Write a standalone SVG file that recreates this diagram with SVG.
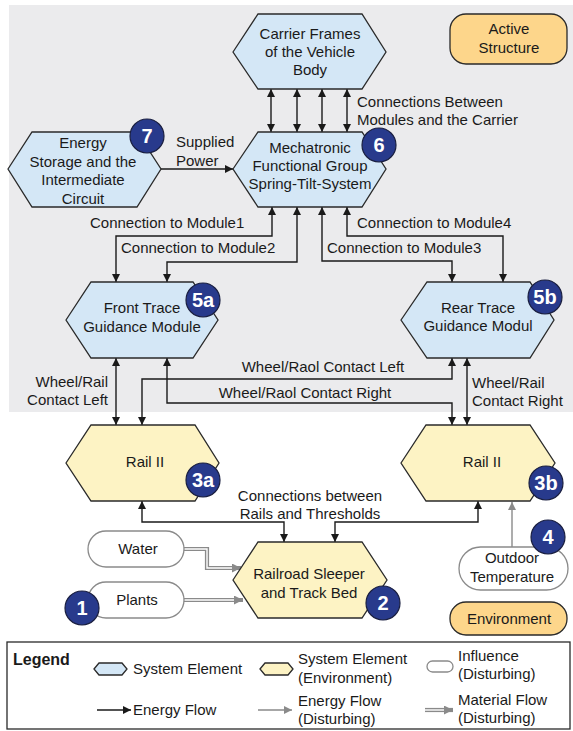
<svg xmlns="http://www.w3.org/2000/svg" width="573" height="731" viewBox="0 0 573 731">
<style>
text{font-family:"Liberation Sans",Arial,sans-serif;font-size:15px;fill:#1a1a1a}
.c{text-anchor:middle}
.e{text-anchor:end}
.sys{fill:#d4e7f6;stroke:#2a2a2a;stroke-width:1.3}
.env{fill:#fdf3c4;stroke:#2a2a2a;stroke-width:1.3}
.inf{fill:#ffffff;stroke:#8a8a8a;stroke-width:1.3}
.box{fill:#fdd68b;stroke:#2a2a2a;stroke-width:1.3}
.badge circle{fill:#283a8c;stroke:#1a1f40;stroke-width:1.2}
.badge text{fill:#ffffff;font-weight:bold;font-size:20px;text-anchor:middle}
.ef{fill:none;stroke:#1a1a1a;stroke-width:1.4}
.ed{fill:none;stroke:#8a8a8a;stroke-width:1.4}
.mo{fill:none;stroke:#8a8a8a;stroke-width:4.2}
.mi{fill:none;stroke:#ffffff;stroke-width:1.4}
</style>
<defs>
<marker id="ah" viewBox="0 0 10 10" refX="10" refY="5" markerWidth="9" markerHeight="8" markerUnits="userSpaceOnUse" orient="auto-start-reverse"><path d="M0,0 L10,5 L0,10 z" fill="#1a1a1a"/></marker>
<marker id="ag" viewBox="0 0 10 10" refX="10" refY="5" markerWidth="9" markerHeight="8" markerUnits="userSpaceOnUse" orient="auto"><path d="M0,0 L10,5 L0,10 z" fill="#8a8a8a"/></marker>
<marker id="am" viewBox="0 0 10 10" refX="10" refY="5" markerWidth="10" markerHeight="9" markerUnits="userSpaceOnUse" orient="auto"><path d="M0,0 L10,5 L0,10 z" fill="#8a8a8a"/></marker>
</defs>
<rect x="9" y="5" width="564" height="407" fill="#ebebed"/>

<g id="connectors">
<path class="ef" d="M271,89 V132" marker-start="url(#ah)" marker-end="url(#ah)"/>
<path class="ef" d="M297,89 V132" marker-start="url(#ah)" marker-end="url(#ah)"/>
<path class="ef" d="M322,89 V132" marker-start="url(#ah)" marker-end="url(#ah)"/>
<path class="ef" d="M347,89 V132" marker-start="url(#ah)" marker-end="url(#ah)"/>
<path class="ef" d="M161,169 H233" marker-end="url(#ah)"/>
<path class="ef" d="M272,207 V236 H116 V282" marker-start="url(#ah)" marker-end="url(#ah)"/>
<path class="ef" d="M297,207 V262 H167 V282" marker-start="url(#ah)" marker-end="url(#ah)"/>
<path class="ef" d="M322,207 V261 H452 V282" marker-start="url(#ah)" marker-end="url(#ah)"/>
<path class="ef" d="M347,207 V236 H503 V282" marker-start="url(#ah)" marker-end="url(#ah)"/>
<path class="ef" d="M116,358 V425" marker-start="url(#ah)" marker-end="url(#ah)"/>
<path class="ef" d="M467,358 V425" marker-start="url(#ah)" marker-end="url(#ah)"/>
<path class="ef" d="M452,358 V379 H142 V425" marker-start="url(#ah)" marker-end="url(#ah)"/>
<path class="ef" d="M167,358 V403 H452 V425" marker-start="url(#ah)" marker-end="url(#ah)"/>
<path class="ef" d="M142,501 V522 H284 V542" marker-start="url(#ah)" marker-end="url(#ah)"/>
<path class="ef" d="M478,501 V522 H335 V542" marker-start="url(#ah)" marker-end="url(#ah)"/>
<path class="ed" d="M512,547 V502" marker-end="url(#ag)"/>
<path class="mo" d="M184,549 H207 V568 H241" marker-end="url(#am)"/>
<path class="mi" d="M184,549 H207 V568 H232"/>
<path class="mo" d="M184,600 H243" marker-end="url(#am)"/>
<path class="mi" d="M184,600 H234"/>
<text x="176" y="147">Supplied</text>
<text x="176" y="166">Power</text>
<text x="357" y="107">Connections Between</text>
<text x="357" y="125">Modules and the Carrier</text>
<text x="90" y="228">Connection to Module1</text>
<text x="121" y="253">Connection to Module2</text>
<text x="357" y="228">Connection to Module4</text>
<text x="327" y="253">Connection to Module3</text>
<text class="e" x="108" y="387">Wheel/Rail</text>
<text class="e" x="108" y="405">Contact Left</text>
<text x="472" y="388">Wheel/Rail</text>
<text x="472" y="406">Contact Right</text>
<text class="c" x="323" y="372">Wheel/Raol Contact Left</text>
<text class="c" x="305" y="398">Wheel/Raol Contact Right</text>
<text class="c" x="310" y="501">Connections between</text>
<text class="c" x="310" y="519">Rails and Thresholds</text>
</g>

<g id="carrier">
<polygon class="sys" points="233,52 258,14 362,14 386,52 362,89 258,89"/>
<text class="c" x="310" y="39">Carrier Frames</text>
<text class="c" x="310" y="57">of the Vehicle</text>
<text class="c" x="310" y="75">Body</text>
</g>

<g id="mechatronic">
<polygon class="sys" points="233,169 258,132 362,132 386,169 362,207 258,207"/>
<text class="c" x="310" y="153">Mechatronic</text>
<text class="c" x="310" y="171">Functional Group</text>
<text class="c" x="310" y="189">Spring-Tilt-System</text>
<g class="badge"><circle cx="379" cy="145" r="17"/><text x="379" y="152">6</text></g>
</g>

<g id="energy-storage">
<polygon class="sys" points="8,169 32,132 137,132 161,169 137,207 32,207"/>
<text class="c" x="83" y="148">Energy</text>
<text class="c" x="83" y="167">Storage and the</text>
<text class="c" x="83" y="185">Intermediate</text>
<text class="c" x="83" y="204">Circuit</text>
<g class="badge"><circle cx="147" cy="136" r="17"/><text x="147" y="143">7</text></g>
</g>

<g id="active-structure">
<rect class="box" x="450" y="14" width="117" height="50" rx="16"/>
<text class="c" x="509" y="34">Active</text>
<text class="c" x="509" y="53">Structure</text>
</g>

<g id="front-trace">
<polygon class="sys" points="66,320 91,282 193,282 218,320 193,358 91,358"/>
<text class="c" x="142" y="313">Front Trace</text>
<text class="c" x="142" y="332">Guidance Module</text>
<g class="badge"><circle cx="203" cy="300" r="17"/><text x="203" y="307">5a</text></g>
</g>

<g id="rear-trace">
<polygon class="sys" points="401,320 427,282 530,282 554,320 530,358 427,358"/>
<text class="c" x="478" y="313">Rear Trace</text>
<text class="c" x="478" y="331">Guidance Modul</text>
<g class="badge"><circle cx="545" cy="297" r="17"/><text x="545" y="304">5b</text></g>
</g>

<g id="rail-a">
<polygon class="env" points="66,463 91,425 195,425 219,463 195,501 91,501"/>
<text class="c" x="145" y="467">Rail II</text>
<g class="badge"><circle cx="203" cy="480" r="17"/><text x="203" y="487">3a</text></g>
</g>

<g id="rail-b">
<polygon class="env" points="401,463 426,425 530,425 555,463 530,501 426,501"/>
<text class="c" x="482" y="467">Rail II</text>
<g class="badge"><circle cx="546" cy="483" r="17"/><text x="546" y="490">3b</text></g>
</g>

<g id="sleeper">
<polygon class="env" points="233,580 258,542 362,542 387,580 362,618 258,618"/>
<text class="c" x="309" y="579">Railroad Sleeper</text>
<text class="c" x="309" y="598">and Track Bed</text>
<g class="badge"><circle cx="383" cy="603" r="17"/><text x="383" y="610">2</text></g>
</g>

<g id="water">
<rect class="inf" x="88" y="531" width="96" height="36" rx="18"/>
<text class="c" x="138" y="554">Water</text>
</g>

<g id="plants">
<rect class="inf" x="88" y="582" width="96" height="36" rx="18"/>
<text class="c" x="137" y="605">Plants</text>
<g class="badge"><circle cx="82" cy="608" r="17"/><text x="82" y="615">1</text></g>
</g>

<g id="outdoor-temperature">
<rect class="inf" x="459" y="547" width="109" height="43" rx="21.5"/>
<text class="c" x="512" y="563">Outdoor</text>
<text class="c" x="512" y="582">Temperature</text>
<g class="badge"><circle cx="548" cy="537" r="17"/><text x="548" y="544">4</text></g>
</g>

<g id="environment">
<rect class="box" x="450" y="602" width="117" height="33" rx="16"/>
<text class="c" x="509" y="624">Environment</text>
</g>

<g id="legend">
<rect x="7" y="642" width="563" height="87" fill="#ffffff" stroke="#2a2a2a" stroke-width="1.3"/>
<text x="13" y="665" style="font-weight:bold;font-size:16px">Legend</text>
<polygon class="sys" points="94,669 99,663 122,663 127,669 122,675 99,675"/>
<text x="133" y="674">System Element</text>
<polygon class="env" points="260,669 265,663 288,663 293,669 288,675 265,675"/>
<text x="298" y="664">System Element</text>
<text x="298" y="683">(Environment)</text>
<rect class="inf" x="427" y="661" width="26" height="11" rx="5.5"/>
<text x="458" y="661">Influence</text>
<text x="458" y="679">(Disturbing)</text>
<path class="ef" d="M97,710 H131" marker-end="url(#ah)"/>
<text x="133" y="715">Energy Flow</text>
<path class="ed" d="M258,710 H292" marker-end="url(#ag)"/>
<text x="298" y="706">Energy Flow</text>
<text x="298" y="724">(Disturbing)</text>
<path class="mo" d="M425,710 H453" marker-end="url(#am)"/>
<path class="mi" d="M425,710 H444"/>
<text x="458" y="705">Material Flow</text>
<text x="458" y="723">(Disturbing)</text>
</g>
</svg>
